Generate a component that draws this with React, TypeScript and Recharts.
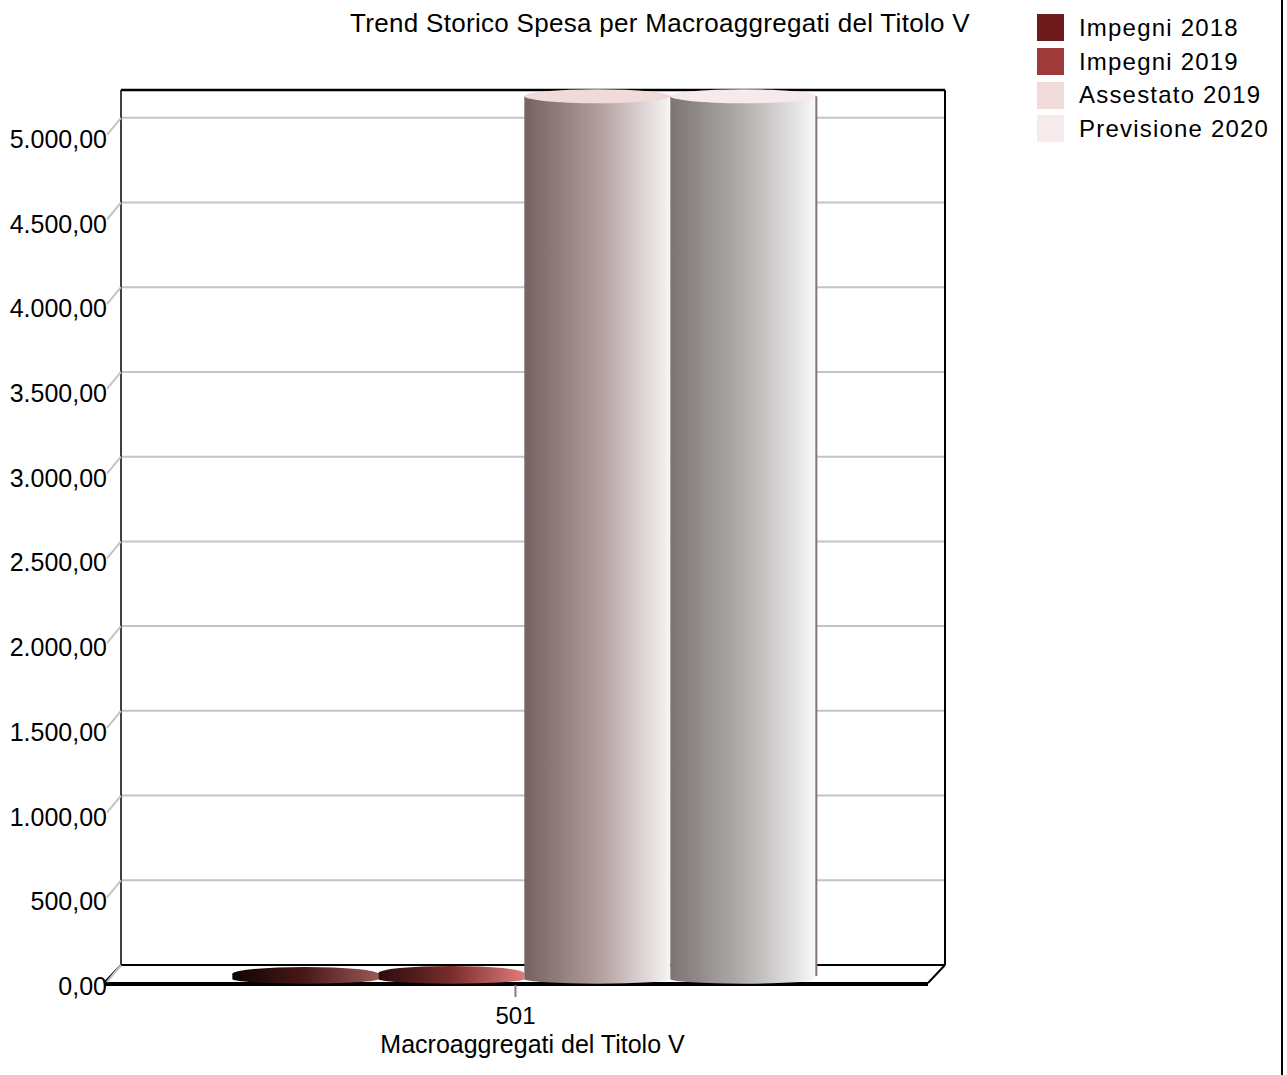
import React from "react";
import { BarChart, Bar, XAxis, YAxis, CartesianGrid, Customized } from "recharts";

// data
const categories = ["501"];
const impegni2018 = [30];
const impegni2019 = [35];
const assestato2019 = [5210];
const previsione2020 = [5210];
const yTicks = [0, 500, 1000, 1500, 2000, 2500, 3000, 3500, 4000, 4500, 5000];

const seriesNames = ["Impegni 2018", "Impegni 2019", "Assestato 2019", "Previsione 2020"];
const seriesKeys = ["imp18", "imp19", "ass19", "prev20"];
const seriesColors = ["#6e1a1c", "#9e3a3a", "#f0dada", "#f6eaea"];
const gradients = [
  ["#100505", "#4a1818", "#9a5856"],
  ["#2c0c0c", "#7a2c2c", "#e07c7a"],
  ["#776161", "#b09c9c", "#f7f5f5"],
  ["#7c7474", "#b2aeae", "#f9f9f9"],
];

const data = categories.map((cat, i) => ({
  cat,
  imp18: impegni2018[i],
  imp19: impegni2019[i],
  ass19: assestato2019[i],
  prev20: previsione2020[i],
}));

const W = 1287;
const H = 1075;
const FONT = "'Liberation Sans', Arial, sans-serif";
const PLOT_L = 121;
const PLOT_R = 944;
const PLOT_B = 965;
const BOX_TOP = 90;
const DX = 17; // depth of the 3d floor
const DY = 18;
const SX = -8; // bars sit halfway in the depth
const SY = 14;

function fmt(v: number) {
  const [int, dec] = v.toFixed(2).split(".");
  return int.replace(/\B(?=(\d{3})+(?!\d))/g, ".") + "," + dec;
}

function YTick(props: any) {
  const { x, y, payload } = props;
  return (
    <g>
      <line x1={x} y1={y} x2={x - 14} y2={y + 17} stroke="#c4c4c4" strokeWidth={2} />
      <text x={x - 14} y={y + 21} textAnchor="end" dominantBaseline="central" fontSize={25} fontFamily={FONT} fill="#000">
        {fmt(payload.value)}
      </text>
    </g>
  );
}

function XTick(props: any) {
  const { x, y, payload } = props;
  const cx = x - DX;
  return (
    <g>
      <line x1={cx} y1={y + 20} x2={cx} y2={y + 32} stroke="#808080" strokeWidth={2} />
      <text x={cx} y={y + 50} textAnchor="middle" dominantBaseline="central" fontSize={24} fontFamily={FONT} fill="#000">
        {payload.value}
      </text>
    </g>
  );
}

function makeShape(i: number) {
  return (props: any) => {
    const { x, y, width, height } = props;
    if (width == null || isNaN(y)) return <g />;
    const left = x + SX;
    const top = y + SY;
    const bottom = y + height + SY;
    const rx = width / 2;
    const ry = 7;
    const fillBody = `url(#cyl${i})`;
    const lid = i < 2 ? fillBody : seriesColors[i];
    return (
      <g>
        <path
          d={`M${left},${top} L${left},${bottom} A${rx},${ry / 1.5} 0 0 0 ${left + width},${bottom} L${left + width},${top} Z`}
          fill={fillBody}
        />
        <ellipse cx={left + rx} cy={top} rx={rx} ry={ry} fill={lid} />
        {i === 3 && (
          <line x1={left + width} y1={top} x2={left + width} y2={bottom - 3} stroke="#857676" strokeWidth={2} />
        )}
      </g>
    );
  };
}

const shapes = seriesKeys.map((_, i) => makeShape(i));

function Frame() {
  return (
    <g>
      <text x={660} y={23} textAnchor="middle" dominantBaseline="central" fontSize={26} letterSpacing={0.3} fontFamily={FONT} fill="#000">
        Trend Storico Spesa per Macroaggregati del Titolo V
      </text>
      <line x1={PLOT_L} y1={BOX_TOP} x2={PLOT_R + 1} y2={BOX_TOP} stroke="#000" strokeWidth={2.5} />
      <line x1={PLOT_L} y1={BOX_TOP} x2={PLOT_L} y2={PLOT_B} stroke="#000" strokeWidth={1.5} />
      <line x1={PLOT_R + 1} y1={BOX_TOP} x2={PLOT_R + 1} y2={PLOT_B} stroke="#000" strokeWidth={2} />
      <line x1={PLOT_L} y1={PLOT_B} x2={PLOT_R + 1} y2={PLOT_B} stroke="#000" strokeWidth={2} />
      <line x1={PLOT_L} y1={PLOT_B} x2={PLOT_L - DX} y2={PLOT_B + DY} stroke="#000" strokeWidth={2} />
      <line x1={PLOT_R + 1} y1={PLOT_B} x2={PLOT_R + 1 - DX} y2={PLOT_B + DY} stroke="#000" strokeWidth={2} />
      <line x1={PLOT_L - DX} y1={PLOT_B + DY + 1} x2={PLOT_R + 1 - DX} y2={PLOT_B + DY + 1} stroke="#000" strokeWidth={4} />
    </g>
  );
}

function LegendBox() {
  return (
    <div style={{ position: "absolute", left: 1037, top: 11, fontFamily: FONT, fontSize: 24, color: "#000" }}>
      {seriesNames.map((name, i) => (
        <div key={name} style={{ display: "flex", alignItems: "center", height: 33.7 }}>
          <span style={{ width: 27, height: 27, background: seriesColors[i], display: "inline-block", marginRight: 15 }} />
          <span style={{ letterSpacing: 1.2, whiteSpace: "nowrap" }}>{name}</span>
        </div>
      ))}
    </div>
  );
}

export default function App() {
  return (
    <div style={{ position: "absolute", left: 0, top: 0, width: W, height: H, background: "#fff" }}>
      <BarChart
        width={W}
        height={H}
        data={data}
        margin={{ top: 50, right: W - PLOT_R, bottom: 0, left: 0 }}
        barCategoryGap="14.5%"
        barGap={0}
      >
        <defs>
          {gradients.map((g, i) => (
            <linearGradient key={i} id={`cyl${i}`} x1="0" y1="0" x2="1" y2="0">
              <stop offset="0%" stopColor={g[0]} />
              <stop offset="50%" stopColor={g[1]} />
              <stop offset="100%" stopColor={g[2]} />
            </linearGradient>
          ))}
        </defs>
        <CartesianGrid vertical={false} horizontalValues={yTicks.filter((v) => v > 0)} stroke="#c4c4c4" strokeWidth={2} />
        <Customized component={<Frame />} />
        <XAxis
          dataKey="cat"
          axisLine={false}
          tickLine={false}
          tickSize={0}
          tickMargin={0}
          height={110}
          tick={<XTick />}
          label={{ value: "Macroaggregati del Titolo V", position: "insideBottom", offset: 22, fontSize: 25, fontFamily: FONT, fill: "#000" }}
        />
        <YAxis
          type="number"
          domain={[0, 5400]}
          ticks={yTicks}
          width={PLOT_L}
          axisLine={false}
          tickLine={false}
          tickSize={0}
          tickMargin={0}
          tick={<YTick />}
          interval={0}
        />
        {seriesKeys.map((k, i) => (
          <Bar key={k} dataKey={k} name={seriesNames[i]} fill={seriesColors[i]} shape={shapes[i]} isAnimationActive={false} />
        ))}
      </BarChart>
      <LegendBox />
      <div style={{ position: "absolute", left: 1281, top: 0, width: 2, height: H, background: "#000" }} />
    </div>
  );
}
